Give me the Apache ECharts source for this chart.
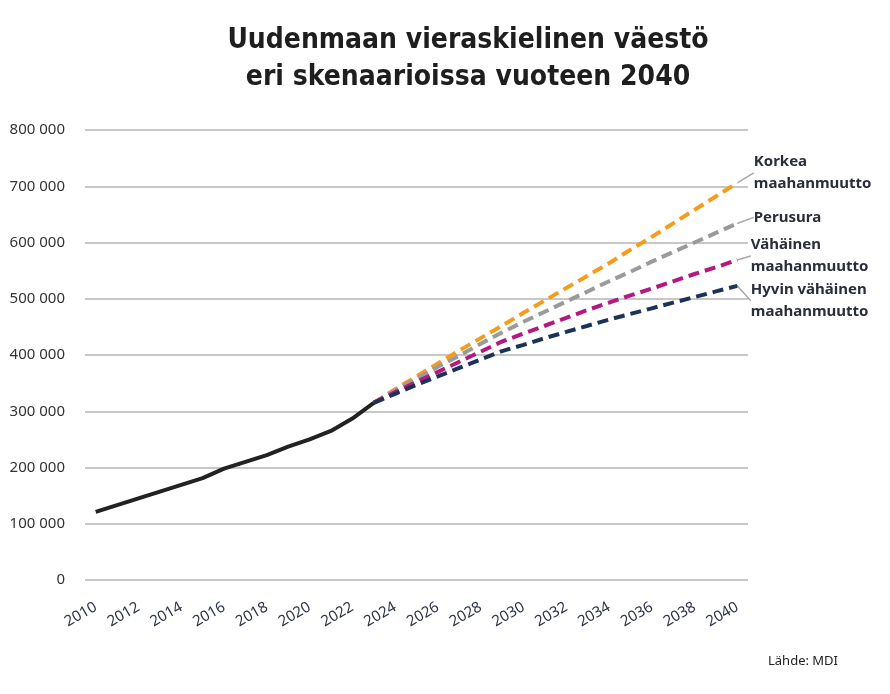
<!DOCTYPE html>
<html><head><meta charset="utf-8">
<script src="https://cdn.jsdelivr.net/npm/echarts@6/dist/echarts.min.js"></script>
<style>html,body{margin:0;padding:0;background:#fff}#c{width:890px;height:694px}</style>
</head><body><div id="c"></div>
<script>
const years = ['2010','2011','2012','2013','2014','2015','2016','2017','2018','2019','2020','2021','2022','2023','2024','2025','2026','2027','2028','2029','2030','2031','2032','2033','2034','2035','2036','2037','2038','2039','2040'];
// Toteutunut 2010–2023
const history = [121000,133000,145000,157000,169000,181000,198000,210000,222000,237000,250000,265000,287000,315000];
// Skenaariot 2023–2040
const korkea = [315000,339000,362000,385000,408000,430000,452000,475000,497000,519000,541000,563000,587000,610000,634000,658000,682000,706000];
const perusura = [315000,337000,358000,379000,399000,420000,440000,459000,477000,495000,513000,531000,548000,566000,583000,600000,617000,634000];
const vahainen = [315000,334000,352000,370000,388000,406000,424000,438000,452000,466000,480000,493000,506000,518000,531000,544000,556000,569000];
const hyvinVahainen = [315000,331000,347000,362000,377000,392000,407000,418000,430000,441000,452000,463000,473000,483000,493000,503000,513000,523000];
const scenarioNames = ['Korkea\nmaahanmuutto','Perusura','Vähäinen\nmaahanmuutto','Hyvin vähäinen\nmaahanmuutto'];

const histData = history.concat(new Array(years.length - history.length).fill(null));
function scen(arr){
  const pad = new Array(years.length - arr.length).fill(null);
  return pad.concat(arr).map((v,i)=> i===years.length-1 ? {value:v, label:{show:true}, symbolSize:1} : v);
}
function scSeries(name, arr, color, dist, dy){
  return {
    type:'line', name:name, data:scen(arr), showSymbol:true, symbol:'circle', symbolSize:0,
    itemStyle:{color:color}, lineStyle:{color:color, width:4, type:[11,6]},
    label:{show:false, position:'right', distance:dist, fontFamily:'Noto Sans', fontWeight:'bold', fontSize:15, color:'#2a2d3a', lineHeight:22, align:'left', verticalAlign:'middle', formatter: p=>p.seriesName},
    labelLayout:{dy:dy},
    labelLine:{show:true, lineStyle:{color:'#a8a8a8', width:1.5}},
    z:3
  };
}
const chart = echarts.init(document.getElementById('c'));
chart.setOption({
  animation:false,
  backgroundColor:'#fff',
  grid:{left:85, right:142, top:130, bottom:114},
  xAxis:{type:'category', data:years, boundaryGap:true,
    axisLine:{show:false}, axisTick:{show:false},
    axisLabel:{interval:1, rotate:30, margin:26, fontFamily:'Noto Sans', fontSize:15, color:'#2d3445'}},
  yAxis:{type:'value', min:0, max:800000, interval:100000,
    axisLine:{show:false}, axisTick:{show:false},
    splitLine:{lineStyle:{color:'#b4b4b4', width:1.5}},
    axisLabel:{margin:20, fontFamily:'Noto Sans', fontSize:15, color:'#333',
      formatter:v=> v===0 ? '0' : (v/1000)+' 000'}},
  graphic:[
    {type:'text', x:468, y:22, style:{text:'Uudenmaan vieraskielinen väestö\neri skenaarioissa vuoteen 2040', align:'center', fontFamily:"'DejaVu Sans Condensed',sans-serif", fontWeight:'bold', fontSize:28, lineHeight:37, fill:'#1e1e1e'}},
    {type:'text', x:768, y:655, style:{text:'Lähde: MDI', fontFamily:'Noto Sans', fontSize:13, fill:'#222'}}
  ],
  series:[
    {type:'line', name:'Toteutunut', data:histData, showSymbol:false, lineStyle:{color:'#222', width:4}, itemStyle:{color:'#222'}, z:4},
    scSeries(scenarioNames[0], korkea, '#f59c1a', 16, -10),
    scSeries(scenarioNames[1], perusura, '#9a9a9a', 16, -6),
    scSeries(scenarioNames[2], vahainen, '#b3197f', 13, -4),
    scSeries(scenarioNames[3], hyvinVahainen, '#1c3358', 13, 15)
  ]
});
</script></body></html>
